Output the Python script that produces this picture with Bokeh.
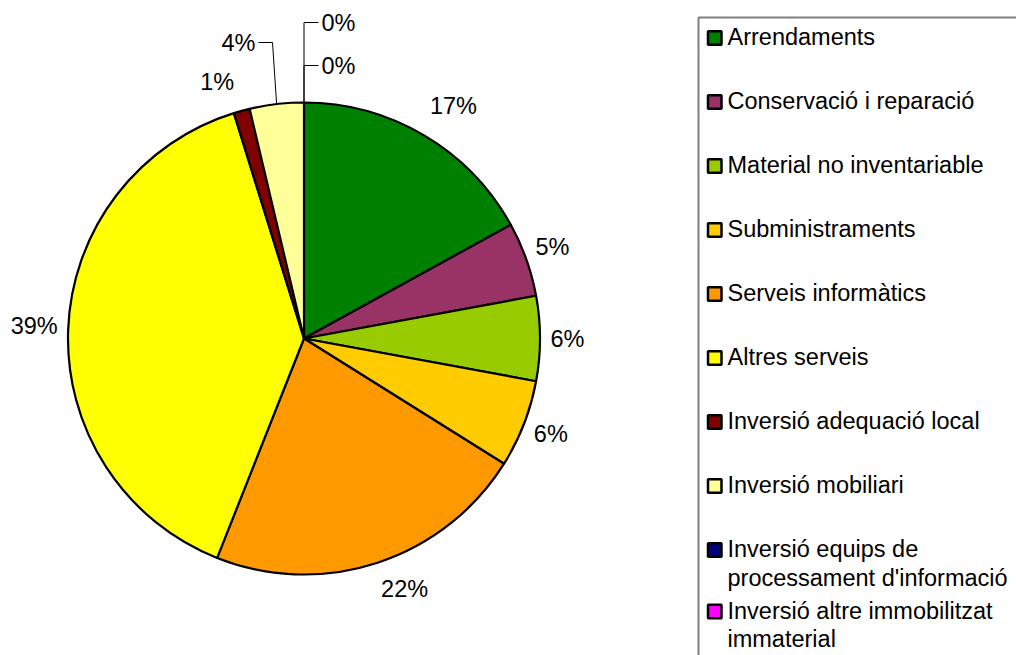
import numpy as np
from bokeh.plotting import figure
from bokeh.models import Range1d, ColumnDataSource
from bokeh.core.properties import value
from bokeh.embed import file_html
from bokeh.resources import INLINE

# ---- data ----
categories = [
    "Arrendaments",
    "Conservació i reparació",
    "Material no inventariable",
    "Subministraments",
    "Serveis informàtics",
    "Altres serveis",
    "Inversió adequació local",
    "Inversió mobiliari",
    "Inversió equips de\nprocessament d'informació",
    "Inversió altre immobilitzat\nimmaterial",
]
shares = [17.0, 5.1, 5.8, 6.0, 22.1, 39.2, 1.1, 3.7, 0.0, 0.0]
pct_labels = ["17%", "5%", "6%", "6%", "22%", "39%", "1%", "4%", "0%", "0%"]
colors = ["#008000", "#993366", "#99CC00", "#FFCC00", "#FF9900",
          "#FFFF00", "#800000", "#FFFF99", "#000080", "#FF00FF"]

# ---- layout (page px -> data) ----
W, H = 1016, 655
def X(px):
    return px
def Y(py):
    return H - py

FONT = value("Liberation Sans")
FS = "23.5px"

p = figure(width=W, height=H, output_backend="svg", toolbar_location=None,
           x_range=Range1d(0, W), y_range=Range1d(0, H),
           min_border=0, outline_line_color=None)
p.axis.visible = False
p.grid.visible = False
p.background_fill_color = "white"
p.border_fill_color = "white"

cx, cy, R = X(303.5), Y(338), 236

frac = np.array(shares) / np.sum(shares)
cum = np.concatenate([[0], np.cumsum(frac)])
start = np.pi / 2 - 2 * np.pi * cum[:-1]
end = np.pi / 2 - 2 * np.pi * cum[1:]
mid = (start + end) / 2

nz = [i for i, s in enumerate(shares) if s > 0]
src = ColumnDataSource(dict(start=start[nz], end=end[nz],
                            color=[colors[i] for i in nz]))
p.wedge(x=cx, y=cy, radius=R, start_angle="start", end_angle="end",
        direction="clock", fill_color="color", line_color="black",
        line_width=2.2, source=src)

# ---- percentage labels (radial position + small layout nudge in px) ----
LR = 268
direct = [0, 1, 2, 3, 4, 5, 6]
nudge = {0: (13, -2), 1: (-4, -2), 2: (-4.5, 0), 3: (-3, -2),
         4: (17, -4.5), 5: (-2, -2), 6: (-16, 2.5)}
lx = [cx + LR * np.cos(mid[i]) + nudge[i][0] for i in direct]
ly = [cy + LR * np.sin(mid[i]) - nudge[i][1] for i in direct]
p.text(x=lx, y=ly, text=[pct_labels[i] for i in direct],
       text_font=FONT, text_font_size=FS, text_align="center",
       text_baseline="middle", text_color="black")

# leader-lined labels (4%, 0%, 0%)
def edge(i):
    return cx + R * np.cos(mid[i]), cy + R * np.sin(mid[i])

ex, ey = edge(7)
p.line(x=[ex, X(272), X(258)], y=[ey, Y(42), Y(42)], line_color="black", line_width=1)
p.text(x=[X(255)], y=[Y(42)], text=[pct_labels[7]], text_font=FONT,
       text_font_size=FS, text_align="right", text_baseline="middle")

ex, ey = edge(8)
p.line(x=[ex, ex, X(318)], y=[ey, Y(65), Y(65)], line_color="black", line_width=1)
p.text(x=[X(321)], y=[Y(65)], text=[pct_labels[8]], text_font=FONT,
       text_font_size=FS, text_align="left", text_baseline="middle")

ex, ey = edge(9)
p.line(x=[ex, ex, X(318)], y=[ey, Y(22), Y(22)], line_color="black", line_width=1)
p.text(x=[X(321)], y=[Y(22)], text=[pct_labels[9]], text_font=FONT,
       text_font_size=FS, text_align="left", text_baseline="middle")

# ---- legend ----
p.quad(left=[X(698)], right=[X(1100)], top=[Y(17)], bottom=[Y(720)],
       fill_color="white", line_color="#808080", line_width=2)

row_y = [37.5 + 64 * i for i in range(9)] + [611]
line_gap = 28.5
sq = 13.5
for i, name in enumerate(categories):
    yc = row_y[i]
    p.quad(left=[X(707.5)], right=[X(707.5 + sq)], top=[Y(yc - sq / 2)],
           bottom=[Y(yc + sq / 2)], fill_color=colors[i],
           line_color="black", line_width=2.5)
    lines = name.split("\n")
    p.text(x=[X(727)] * len(lines),
           y=[Y(yc - 1 + k * line_gap) for k in range(len(lines))],
           text=lines, text_font=FONT, text_font_size=FS,
           text_align="left", text_baseline="middle", text_color="black")

open("out.html", "w").write(file_html(p, INLINE))
